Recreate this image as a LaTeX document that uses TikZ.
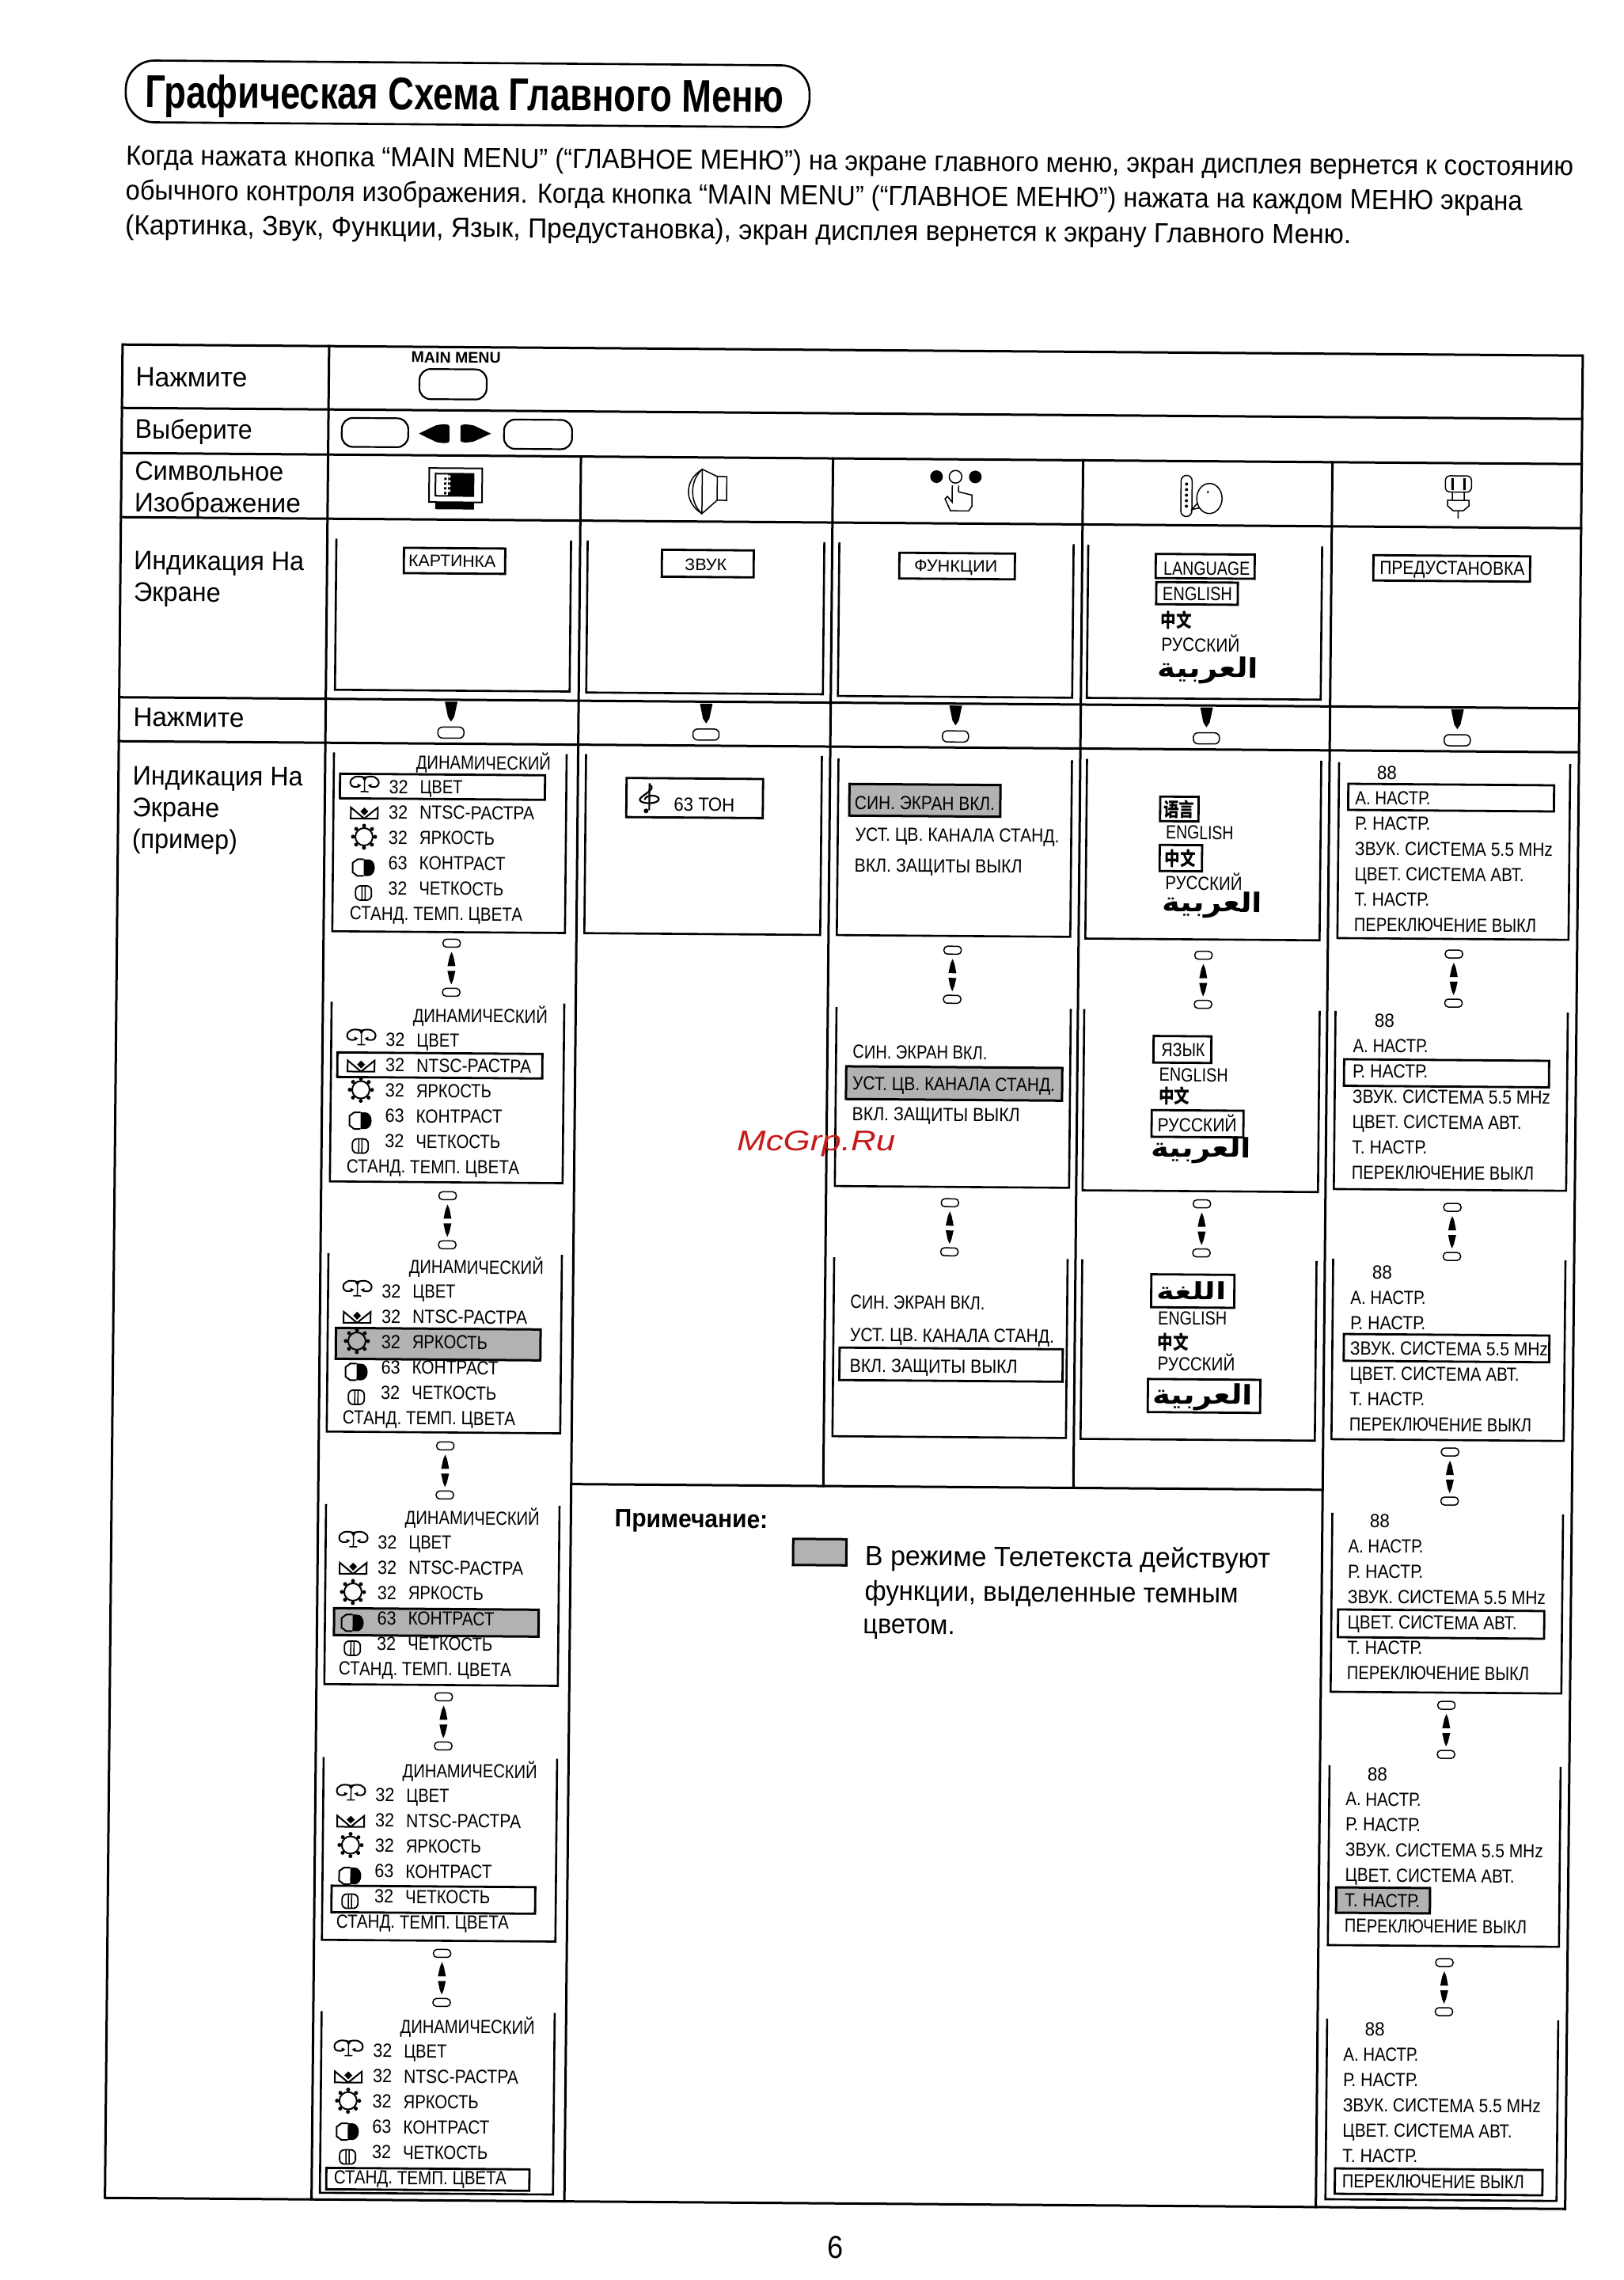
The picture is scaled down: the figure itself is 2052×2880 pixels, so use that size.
\documentclass[tikz,border=0pt]{standalone}
\usepackage{fontspec}
\usepackage{graphicx}
\setmainfont{Liberation Sans}
\newfontfamily\cjkf{Noto Sans CJK SC}
\newfontfamily\arabf[Script=Arabic]{DejaVu Sans}
\TeXXeTstate=1
\newcommand\fsz[1]{\fontsize{#1}{#1}\selectfont}
\newcount\tn
\tikzset{
  txt/.style={anchor=base west,inner sep=0pt,outer sep=0pt,transform shape},
  tb/.style={line width=3pt,line cap=rect},
  scr/.style={line width=2.6pt},
  hbox/.style={line width=2.8pt},
  shade/.style={line width=3pt,fill=black!30},
  ic/.style={line width=1.5pt},
  pil/.style={line width=1.5pt},
}
% #1 font, #2 x, #3 y, #4 width, #5 text
\newcommand\lab[5]{\global\advance\tn by 1\node[txt,name=t\the\tn] at (#2,-#3) {#1\resizebox{#4pt}{\height}{#5}};}
\newcommand\bx[4]{\draw[hbox] (#1,-#2) rectangle (#3,-#4);}
\newcommand\sh[4]{\draw[shade] (#1,-#2) rectangle (#3,-#4);}
\newcommand\ufr[4]{\draw[scr] (#1,-#3) -- (#1,-#4) -- (#2,-#4) -- (#2,-#3);}
\newcommand\wdn[4]{\fill ({#1-#4},{-(#2)}) -- ({#1+#4},{-(#2)}) -- ({#1+#4*0.5},{-(#3)+6}) -- (#1,{-(#3)}) -- ({#1-#4*0.5},{-(#3)+6}) -- cycle;}
\newcommand\wup[4]{\fill ({#1-#4},{-(#3)}) -- ({#1+#4},{-(#3)}) -- ({#1+#4*0.5},{-(#2)-6}) -- (#1,{-(#2)}) -- ({#1-#4*0.5},{-(#2)-6}) -- cycle;}
\newcommand\conn[2]{%
  \draw[pil,rounded corners=4.5pt] ({#1-11},-#2) rectangle ({#1+11},{-#2-10});
  \wup{#1}{#2+16}{#2+34}{5}
  \wdn{#1}{#2+40}{#2+57}{5}
  \draw[pil,rounded corners=4.5pt] ({#1-11},{-#2-62}) rectangle ({#1+11},{-#2-72});}
\newcommand\press[1]{\wdn{#1}{882}{907}{8}\draw[pil,rounded corners=6pt] ({#1-16.5},-914) rectangle ({#1+16.5},-928);}
% menu icons, centred on the origin
\newcommand\icColor{%
  \draw[ic,line width=2pt] (-1,8) .. controls (-10,11) and (-18,8) .. (-18,1) .. controls (-18,-5) and (-10,-5) .. (-7,-3);
  \draw[ic,line width=2pt] (1,8) .. controls (10,11) and (18,8) .. (18,1) .. controls (18,-5) and (10,-5) .. (7,-3);
  \draw[ic] (0,8) -- (0,-10) (-5,-10) -- (5,-10);
  \fill (-4,9) -- (4,9) -- (0,3) -- cycle;
  \fill (-8,-5) -- (-4,-2) -- (-9,0) -- cycle; \fill (8,-5) -- (4,-2) -- (9,0) -- cycle;}
\newcommand\icTint{%
  \draw[ic,line width=2pt] (-17,7) -- (-17,-7) -- (17,-7) -- (17,7) -- (6,-2) -- (0,-7) -- (-6,-2) -- cycle;
  \fill (0,7) -- (5,2) -- (0,-3) -- (-5,2) -- cycle;}
\newcommand\icBright{%
  \draw[ic,line width=2pt] (0,0) circle (11);
  \foreach \a in {0,45,...,315}{\fill (\a:14) circle (2.5);}}
\newcommand\icContrast{%
  \fill (0,10.5) -- (6,10.5) arc (90:-90:8 and 10.5) -- (0,-10.5) -- cycle;
  \draw[ic,line width=2pt] (0,10.5) -- (-8,10.5) -- (-14,6) -- (-14,-6) -- (-8,-10.5) -- (0,-10.5);}
\newcommand\icSharp{%
  \draw[ic,line width=1.8pt,rounded corners=6pt] (-10,-9) rectangle (10,9);
  \draw[ic] (-2,9) -- (-2,-9) (2,9) -- (2,-9);}
% #1 T, #2 x shift
\newcommand\picmenu[2]{%
  \begin{scope}[shift={(#2,-#1)}]
  \lab{\fsz{24}}{535}{20}{170}{ДИНАМИЧЕСКИЙ}
  \begin{scope}[shift={(470,-39)}]\icColor\end{scope}
  \begin{scope}[shift={(470,-76)}]\icTint\end{scope}
  \begin{scope}[shift={(470,-106)}]\icBright\end{scope}
  \begin{scope}[shift={(470,-145)}]\icContrast\end{scope}
  \begin{scope}[shift={(470,-177)}]\icSharp\end{scope}
  \lab{\fsz{24}}{501}{51}{24}{32}\lab{\fsz{24}}{540}{51}{54}{ЦВЕТ}
  \lab{\fsz{24}}{501}{83}{24}{32}\lab{\fsz{24}}{540}{83}{145}{NTSC-РАСТРА}
  \lab{\fsz{24}}{501}{115}{24}{32}\lab{\fsz{24}}{540}{115}{95}{ЯРКОСТЬ}
  \lab{\fsz{24}}{501}{147}{24}{63}\lab{\fsz{24}}{540}{147}{109}{КОНТРАСТ}
  \lab{\fsz{24}}{501}{179}{24}{32}\lab{\fsz{24}}{540}{179}{107}{ЧЕТКОСТЬ}
  \lab{\fsz{24}}{453}{211}{218}{СТАНД. ТЕМП. ЦВЕТА}
  \end{scope}}
% #1 T (baseline of first row)
\newcommand\prmenu[1]{%
  \begin{scope}[shift={(0,-#1)}]
  \lab{\fsz{24}}{1749}{-32}{25}{88}
  \lab{\fsz{24}}{1722}{0}{95}{А. НАСТР.}
  \lab{\fsz{24}}{1722}{32}{95}{Р. НАСТР.}
  \lab{\fsz{24}}{1722}{64}{250}{ЗВУК. СИСТЕМА 5.5 MHz}
  \lab{\fsz{24}}{1722}{96}{214}{ЦВЕТ. СИСТЕМА АВТ.}
  \lab{\fsz{24}}{1722}{128}{95}{Т. НАСТР.}
  \lab{\fsz{24}}{1722}{160}{230}{ПЕРЕКЛЮЧЕНИЕ ВЫКЛ}
  \end{scope}}
\newcommand\arb[3]{\lab{\fsz{34}\arabf\bfseries}{#1}{#2}{#3}{\beginR العربية\endR}}
\newcommand\zh[2]{\lab{\fsz{24}\cjkf\bfseries}{#1}{#2}{39}{中文}}
\begin{document}
\begin{tikzpicture}[x=1pt,y=1pt]
\useasboundingbox (0,0) rectangle (2052,-2880);
\fill[white] (0,0) rectangle (2052,-2880);
\begin{scope}[cm={1,-0.0076,0.0095,1,(0,0)}]
% title
\draw[line width=2.6pt,rounded corners=36pt] (160,-75) rectangle (1024,-153);
\lab{\fsz{58}\bfseries}{185}{134.5}{807}{Графическая Схема Главного Меню}
\lab{\fsz{35}}{161}{207}{1829}{Когда нажата кнопка “MAIN MENU” (“ГЛАВНОЕ МЕНЮ”) на экране главного меню, экран дисплея вернется к состоянию}
\lab{\fsz{35}}{161}{251}{1765}{обычного контроля изображения. Когда кнопка “MAIN MENU” (“ГЛАВНОЕ МЕНЮ”) нажата на каждом МЕНЮ экрана}
\lab{\fsz{35}}{161}{295}{1549}{(Картинка, Звук, Функции, Язык, Предустановка), экран дисплея вернется к экрану Главного Меню.}
% table
\draw[tb] (159,-434) -- (2004,-434) -- (2004,-2775) -- (159,-2775) -- cycle;
\foreach \yy in {514,571,652,879.5,935}{\draw[tb] (159,-\yy) -- (2004,-\yy);}
\draw[tb] (420,-434) -- (420,-2775);
\draw[tb] (739.5,-571) -- (739.5,-2775);
\draw[tb] (1058,-571) -- (1058,-1869);
\draw[tb] (1374,-571) -- (1374,-1869);
\draw[tb] (1689,-571) -- (1689,-2775);
\draw[tb] (739.5,-1869) -- (1689,-1869);
% row labels
\lab{\fsz{34}}{176}{486.5}{141}{Нажмите}
\lab{\fsz{34}}{176}{552.5}{148}{Выберите}
\lab{\fsz{34}}{176}{605}{188}{Символьное}
\lab{\fsz{34}}{176}{645}{210}{Изображение}
\lab{\fsz{34}}{176}{718}{215}{Индикация На}
\lab{\fsz{34}}{176}{758}{110}{Экране}
\lab{\fsz{34}}{177}{916}{140}{Нажмите}
\lab{\fsz{34}}{177}{990}{215}{Индикация На}
\lab{\fsz{34}}{177}{1030}{110}{Экране}
\lab{\fsz{34}}{177}{1070}{133}{(пример)}
% row 1, 2 controls
\lab{\fsz{19.5}\bfseries}{524}{454}{113}{MAIN MENU}
\draw[line width=2.2pt,rounded corners=14pt] (534.5,-462) rectangle (619.5,-500);
\draw[line width=2.2pt,rounded corners=14pt] (437,-524.5) rectangle (521,-561);
\draw[line width=2.2pt,rounded corners=14pt] (642,-525) rectangle (728,-562);
\fill (534.5,-543.5) -- (556,-533) .. controls (565,-531) and (573,-531) .. (573,-534) -- (573,-553) .. controls (573,-556) and (565,-556) .. (556,-554) -- cycle;
\fill (625.6,-543) -- (604,-533) .. controls (595,-531) and (587,-531) .. (587,-534) -- (587,-552) .. controls (587,-555) and (595,-555) .. (604,-553) -- cycle;
% symbol icons
\draw[line width=2pt] (548,-587) rectangle (615,-630);
\fill (556,-630) rectangle (605,-639);
\draw[line width=2pt] (556,-594) rectangle (604,-622);
\fill (572,-594) rectangle (604,-622);
\foreach \yy in {596,602,608,614}{\fill[white] (572,-\yy) rectangle (575,{-\yy-3});\fill (567,{-\yy-3}) rectangle (570,{-\yy-6});}
\draw[ic] (912,-595) rectangle (924,-625);
\draw[ic] (912,-595) -- (893,-586) -- (893,-642) -- (912,-625);
\draw[ic] (893,-586) .. controls (870,-600) and (870,-628) .. (893,-642);
\draw[ic] (893,-586) .. controls (877,-600) and (877,-628) .. (893,-642);
\fill (1189,-593) circle (8); \draw[ic] (1213,-593) circle (8); \fill (1238,-593) circle (8);
\draw[ic] (1209,-604) -- (1209,-625) -- (1203,-618) -- (1200,-621) -- (1207,-636) -- (1230,-636) -- (1234,-630) -- (1234,-616) -- (1217,-612) -- (1217,-604);
\draw[ic,rounded corners=7pt] (1498,-589) rectangle (1512,-641);
\foreach \yy in {600,607,614,621,628}{\fill (1505,-\yy) circle (2);}
\draw[ic] (1534,-618) ellipse (16 and 19);
\fill (1532,-610) circle (1.5);
\draw[ic] (1519,-624) -- (1512,-632) -- (1522,-630);
\draw[ic,rounded corners=6pt] (1832,-587) rectangle (1865,-607.5);
\draw[line width=3pt] (1841,-590) -- (1841,-605) (1856,-590) -- (1856,-605);
\draw[ic] (1841,-607.5) -- (1841,-618) (1856,-607.5) -- (1856,-618);
\draw[ic] (1835,-618) -- (1862,-618) -- (1862,-625) -- (1855,-631) -- (1842,-631) -- (1835,-625) -- cycle;
\draw[ic] (1848.5,-631) -- (1848.5,-641);
% row 4 screens
\ufr{431.5}{728}{677}{868}
\ufr{749}{1048}{677}{869}
\ufr{1067}{1363}{677}{871}
\ufr{1381.5}{1677}{677.5}{871}
\bx{517}{688}{645}{720}\lab{\fsz{21}}{523}{711.5}{110}{КАРТИНКА}
\bx{843}{688}{959}{722}\lab{\fsz{21}}{872}{713.5}{53}{ЗВУК}
\bx{1143}{689.5}{1289}{722}\lab{\fsz{21}}{1162}{713}{105}{ФУНКЦИИ}
\bx{1467}{688.5}{1592}{719}\lab{\fsz{24}}{1477}{715}{109}{LANGUAGE}
\bx{1468}{724}{1571}{752}\lab{\fsz{24}}{1476}{747}{88}{ENGLISH}
\zh{1474}{781}
\lab{\fsz{24}}{1475}{811.5}{99}{РУССКИЙ}
\arb{1471}{844}{127}
\bx{1742}{688}{1940}{720}\lab{\fsz{24}}{1750}{712}{183}{ПРЕДУСТАНОВКА}
% press row
\press{578.5}\press{900.8}\press{1216}\press{1533}\press{1850}
% column 1 menus
\ufr{431}{725}{947}{1173}
\bx{439}{974}{698}{1005}
\picmenu{947.4}{0}
\conn{582}{1182}
\ufr{431}{725}{1262}{1489}
\bx{439}{1326}{698}{1357}
\picmenu{1267}{-1}
\conn{580}{1501}
\ufr{430}{725}{1579.5}{1805}
\sh{440.5}{1674}{699}{1713}
\picmenu{1584.4}{-3}
\conn{580}{1817}
\ufr{430}{725}{1896.5}{2124}
\sh{441.5}{2028}{700}{2062}
\picmenu{1901.4}{-5}
\conn{581}{2134}
\ufr{430}{725}{2216}{2447}
\bx{441.6}{2378.5}{699}{2412}
\picmenu{2221}{-5}
\conn{582}{2458}
\ufr{430.5}{725}{2537}{2766.5}
\bx{438.4}{2735}{695}{2762}
\picmenu{2544}{-5}
% column 2
\ufr{749.5}{1047.5}{947}{1173}
\bx{801}{976.6}{973.5}{1026}
\draw[line width=2.2pt] (830,-983) -- (830,-1017);
\draw[line width=2.2pt] (830,-985) .. controls (840,-990) and (822,-997) .. (818,-1003) .. controls (816,-1010) and (842,-1010) .. (842,-1003) .. controls (842,-998) and (826,-996) .. (824,-1004);
\fill (826,-1018) circle (3);
\lab{\fsz{24}}{861}{1018}{77}{63 ТОН}
% column 3
\ufr{1068.5}{1363.5}{950}{1173}
\sh{1082.7}{982}{1273.5}{1022}
\lab{\fsz{24}}{1089.6}{1014}{177}{СИН. ЭКРАН ВКЛ.}
\lab{\fsz{24}}{1090.6}{1054}{258}{УСТ. ЦВ. КАНАЛА СТАНД.}
\lab{\fsz{24}}{1090}{1093}{212}{ВКЛ. ЗАЩИТЫ ВЫКЛ}
\conn{1215}{1186}
\ufr{1069}{1365}{1264}{1490}
\sh{1082}{1338.7}{1355}{1380}
\lab{\fsz{24}}{1090}{1328.7}{170}{СИН. ЭКРАН ВКЛ.}
\lab{\fsz{24}}{1090}{1368.5}{256}{УСТ. ЦВ. КАНАЛА СТАНД.}
\lab{\fsz{24}}{1090}{1407}{212}{ВКЛ. ЗАЩИТЫ ВЫКЛ}
\conn{1214.6}{1505}
\ufr{1069}{1364}{1580}{1806}
\bx{1077}{1694}{1359}{1735}
\lab{\fsz{24}}{1090}{1644.6}{170}{СИН. ЭКРАН ВКЛ.}
\lab{\fsz{24}}{1090}{1686}{258}{УСТ. ЦВ. КАНАЛА СТАНД.}
\lab{\fsz{24}}{1090}{1725}{212}{ВКЛ. ЗАЩИТЫ ВЫКЛ}
% column 4
\ufr{1382.5}{1678.5}{948}{1175}
\bx{1475.5}{995}{1524}{1026}\lab{\fsz{24}\cjkf\bfseries}{1480}{1020}{39}{语言}
\lab{\fsz{24}}{1483}{1048.5}{85.5}{ENGLISH}
\bx{1475.5}{1056}{1529}{1089}\lab{\fsz{24}\cjkf\bfseries}{1482}{1082}{39}{中文}
\lab{\fsz{24}}{1483}{1112.5}{97}{РУССКИЙ}
\arb{1479}{1140}{127}
\conn{1532}{1190}
\ufr{1382}{1679.5}{1264}{1493}
\bx{1470}{1297.4}{1543}{1331}\lab{\fsz{24}}{1480}{1323}{55}{ЯЗЫК}
\lab{\fsz{24}}{1477.5}{1354.6}{87}{ENGLISH}
\zh{1477.5}{1382.5}
\bx{1468.5}{1391}{1584.5}{1424.7}\lab{\fsz{24}}{1476}{1418}{100}{РУССКИЙ}
\arb{1468}{1450}{127}
\conn{1533}{1504}
\ufr{1382.5}{1678.5}{1580}{1807}
\bx{1470}{1598.4}{1575}{1640}
\lab{\fsz{30}\arabf\bfseries}{1477}{1630}{88}{\beginR اللغة\endR}
\lab{\fsz{24}}{1479}{1662}{87}{ENGLISH}
\zh{1479}{1692.8}
\lab{\fsz{24}}{1479}{1719.7}{97.6}{РУССКИЙ}
\bx{1467}{1730.7}{1609}{1772.5}
\arb{1473}{1762}{127}
% column 5
\ufr{1701}{1993}{950}{1172}
\bx{1713}{977}{1973}{1010}
\prmenu{1003}
\conn{1848.4}{1186}
\ufr{1699.5}{1993}{1264}{1489}
\bx{1711}{1325}{1970}{1358.5}
\prmenu{1316}
\conn{1849.5}{1506}
\ufr{1699.5}{1993}{1577}{1805}
\bx{1714}{1672}{1973.6}{1705.8}
\prmenu{1634}
\conn{1849.5}{1815}
\ufr{1701.5}{1993}{1898}{2124}
\bx{1710}{2020}{1970.5}{2055}
\prmenu{1948}
\conn{1848}{2135}
\ufr{1701}{1993}{2216.7}{2444}
\sh{1711}{2371}{1829.5}{2403}
\prmenu{2267.7}
\conn{1848.5}{2460}
\ufr{1701}{1993}{2537}{2765}
\bx{1712.7}{2726}{1975}{2758}
\prmenu{2590}
% note
\lab{\fsz{32}\bfseries}{795}{1922.7}{193.4}{Примечание:}
\draw[shade] (1020.7,-1936) rectangle (1088,-1969);
\lab{\fsz{35}}{1111.7}{1968.7}{512}{В режиме Телетекста действуют}
\lab{\fsz{35}}{1111.7}{2013}{472}{функции, выделенные темным}
\lab{\fsz{35}}{1110}{2055}{116}{цветом.}
\lab{\fsz{40}}{1073}{2844}{20}{6}
\end{scope}
% watermark
\node[anchor=base west,inner sep=0pt,text=red!75!black!90] (wm) at (931,-1453) {\fsz{36}\itshape\resizebox{200pt}{\height}{McGrp.Ru}};
\end{tikzpicture}
\end{document}
